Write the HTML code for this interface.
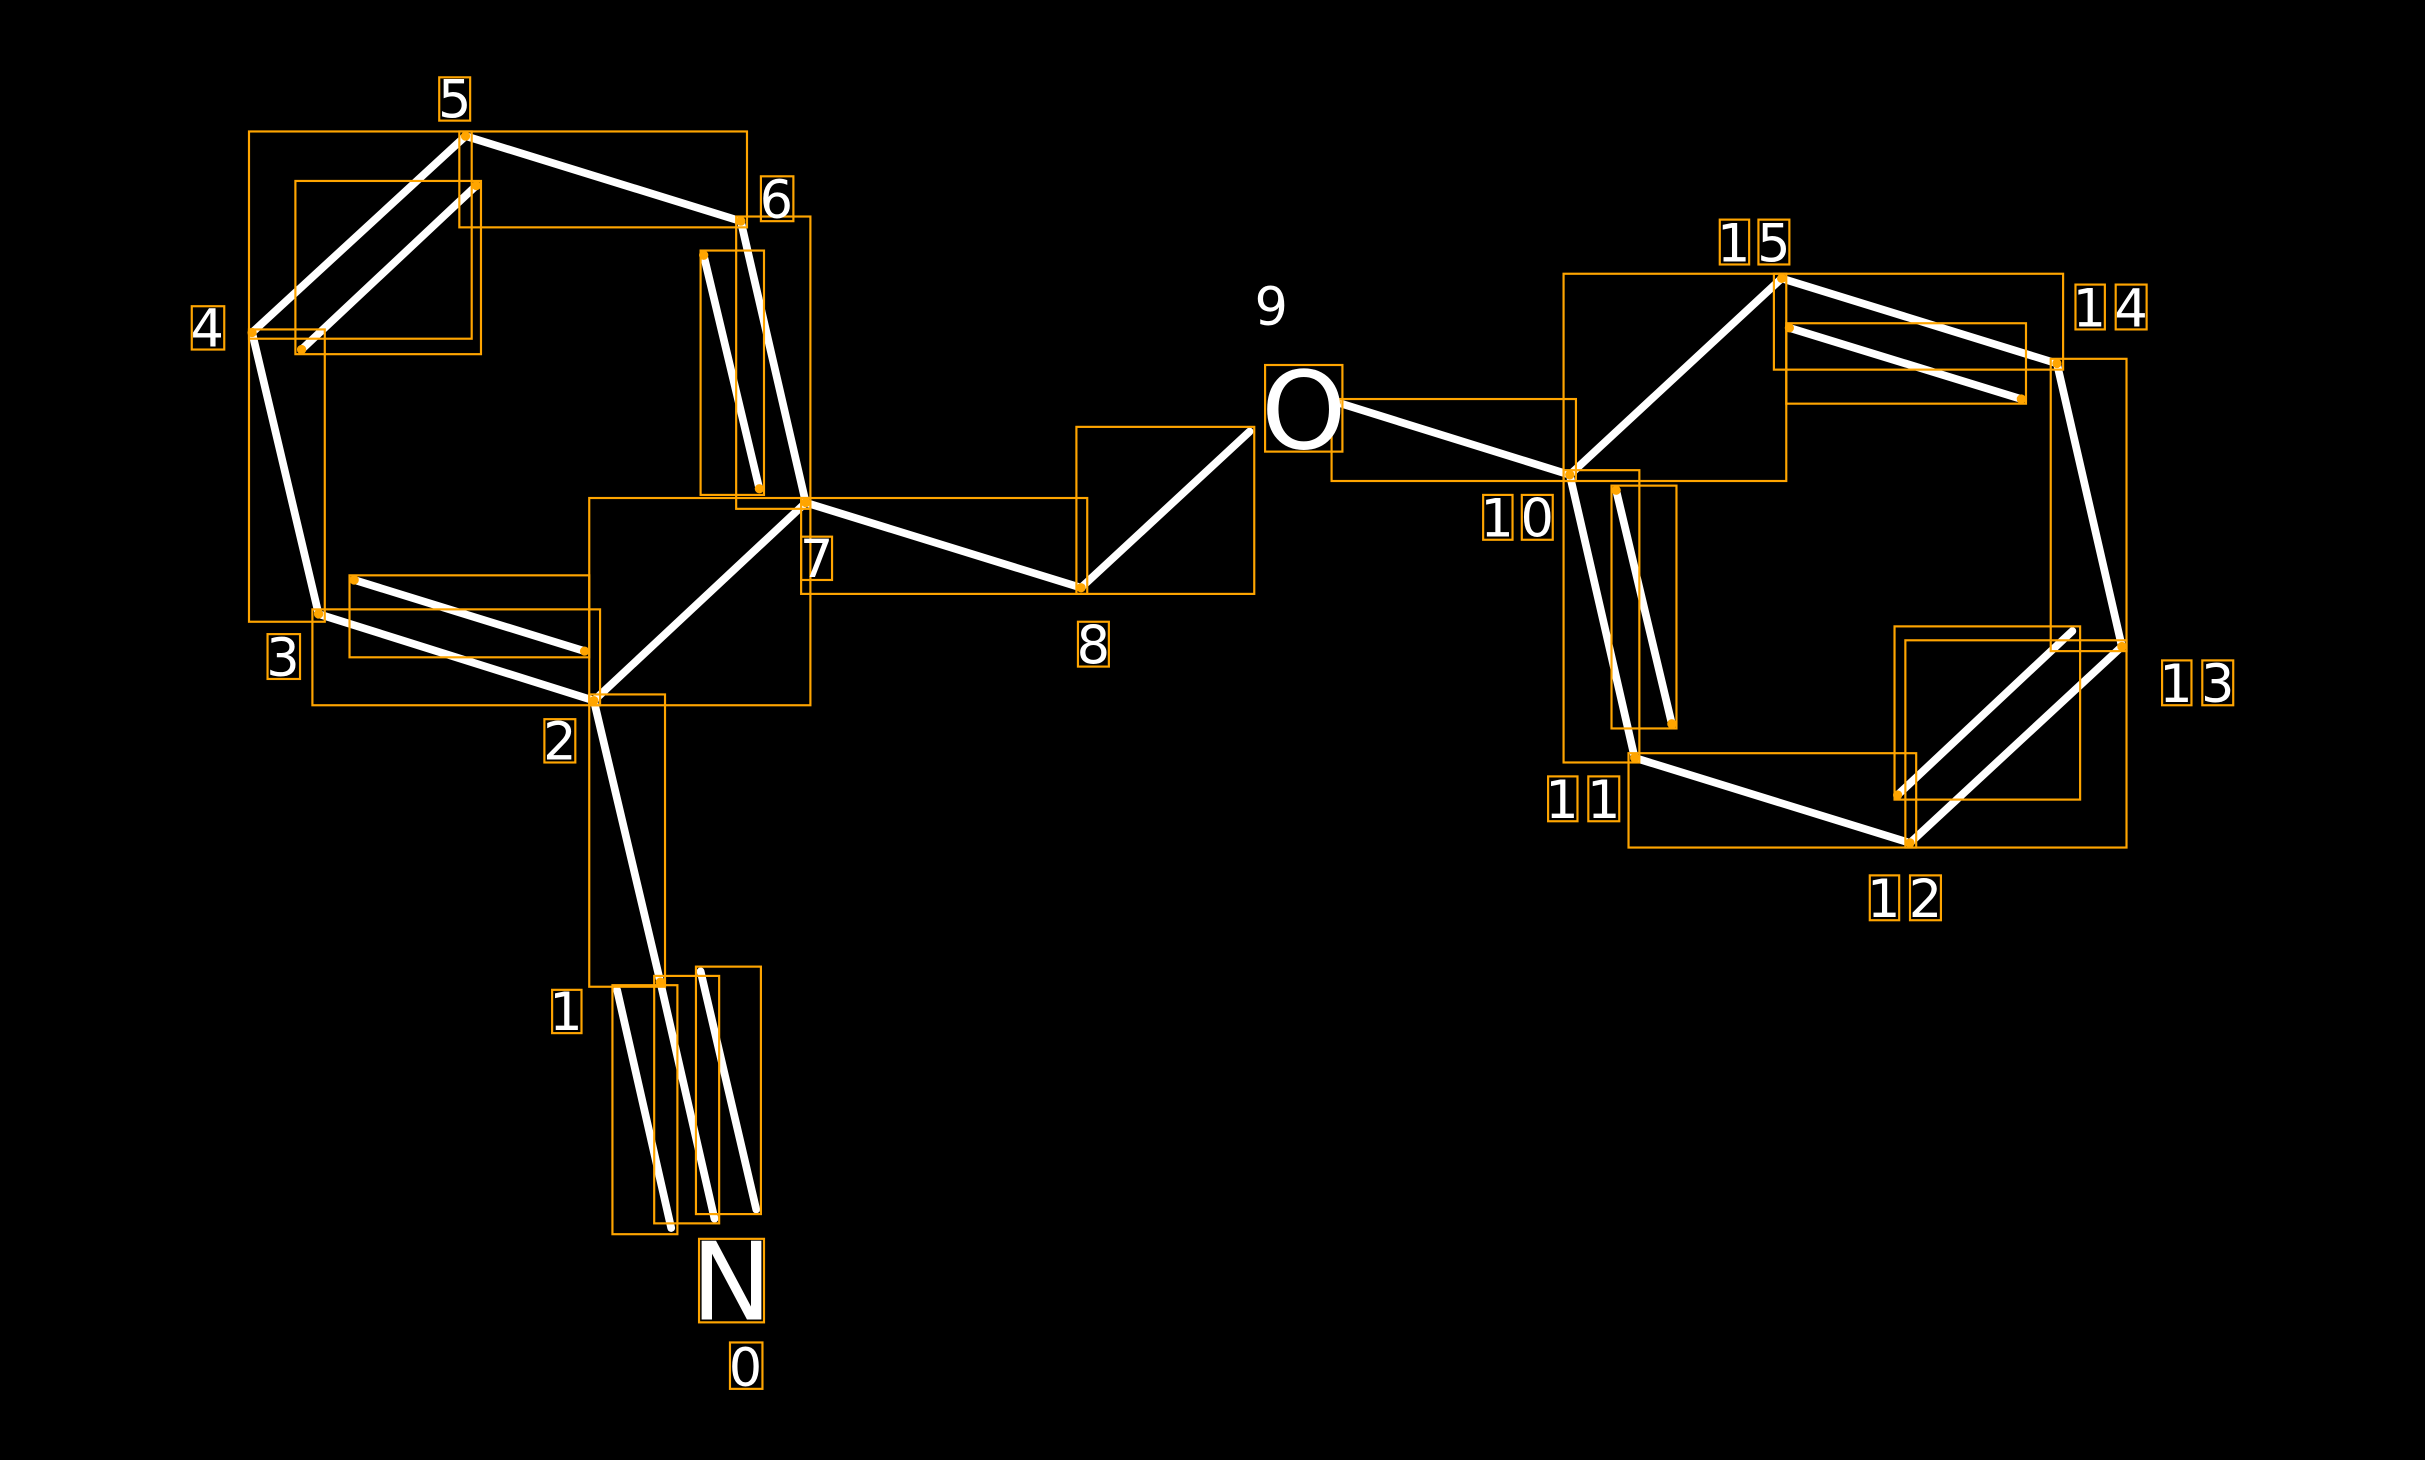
<!DOCTYPE html>
<html><head><meta charset="utf-8"><style>html,body{margin:0;padding:0;background:#000;}svg{display:block}</style></head>
<body>
<svg width="2425" height="1460" viewBox="0 0 1568 944" preserveAspectRatio="none" xmlns="http://www.w3.org/2000/svg">
<rect width="1568" height="944" fill="#000"/>
<g stroke="#fff" stroke-width="5" stroke-linecap="round" fill="none">
<line x1="399" y1="640" x2="434" y2="794"/>
<line x1="427" y1="635" x2="462" y2="788"/>
<line x1="453" y1="628" x2="489" y2="782"/>
<line x1="427" y1="635" x2="384" y2="453"/>
<line x1="384" y1="453" x2="206" y2="397"/>
<line x1="229" y1="375" x2="378" y2="421"/>
<line x1="206" y1="397" x2="163" y2="215"/>
<line x1="163" y1="215" x2="301" y2="88"/>
<line x1="195" y1="226" x2="308" y2="120"/>
<line x1="301" y1="88" x2="479" y2="143"/>
<line x1="479" y1="143" x2="521" y2="325"/>
<line x1="455" y1="165" x2="491" y2="316"/>
<line x1="521" y1="325" x2="384" y2="453"/>
<line x1="521" y1="325" x2="699" y2="380"/>
<line x1="699" y1="380" x2="808" y2="279"/>
<line x1="864" y1="260" x2="1015" y2="307"/>
<line x1="1015" y1="307" x2="1152" y2="180"/>
<line x1="1152" y1="180" x2="1330" y2="235"/>
<line x1="1157" y1="212" x2="1307" y2="258"/>
<line x1="1330" y1="235" x2="1372" y2="418"/>
<line x1="1372" y1="418" x2="1235" y2="545"/>
<line x1="1340" y1="408" x2="1227" y2="514"/>
<line x1="1235" y1="545" x2="1057" y2="490"/>
<line x1="1057" y1="490" x2="1015" y2="307"/>
<line x1="1045" y1="317" x2="1081" y2="468"/>
</g>
<g stroke="#ffa500" stroke-width="1.4" fill="none">
<rect x="161" y="85" width="144" height="134"/>
<rect x="191" y="117" width="120" height="112"/>
<rect x="297" y="85" width="186" height="62"/>
<rect x="161" y="213" width="49" height="189"/>
<rect x="476" y="140" width="48" height="189"/>
<rect x="453" y="162" width="41" height="158"/>
<rect x="202" y="394" width="186" height="62"/>
<rect x="226" y="372" width="155" height="53"/>
<rect x="381" y="322" width="143" height="134"/>
<rect x="381" y="449" width="49" height="189"/>
<rect x="518" y="322" width="185" height="62"/>
<rect x="696" y="276" width="115" height="108"/>
<rect x="861" y="258" width="158" height="53"/>
<rect x="1011" y="177" width="144" height="134"/>
<rect x="1147" y="177" width="187" height="62"/>
<rect x="1155" y="209" width="155" height="52"/>
<rect x="1326" y="232" width="49" height="189"/>
<rect x="1232" y="414" width="143" height="134"/>
<rect x="1225" y="405" width="120" height="112"/>
<rect x="1053" y="487" width="186" height="61"/>
<rect x="1011" y="304" width="49" height="189"/>
<rect x="1042" y="314" width="42" height="157"/>
<rect x="396" y="637" width="42" height="161"/>
<rect x="423" y="631" width="42" height="160"/>
<rect x="450" y="625" width="42" height="160"/>
<rect x="452" y="801" width="42" height="54"/>
<rect x="818" y="236" width="50" height="56"/>
<rect x="284" y="50" width="20" height="28"/>
<rect x="492" y="114" width="21" height="29"/>
<rect x="124" y="198" width="21" height="28"/>
<rect x="173" y="410" width="21" height="29"/>
<rect x="352" y="465" width="20" height="28"/>
<rect x="357" y="640" width="19" height="28"/>
<rect x="518" y="347" width="20" height="28"/>
<rect x="697" y="402" width="20" height="29"/>
<rect x="472" y="868" width="21" height="30"/>
<rect x="959" y="320" width="19" height="29"/><rect x="984" y="320" width="20" height="29"/>
<rect x="1001" y="502" width="19" height="29"/><rect x="1027" y="502" width="20" height="29"/>
<rect x="1209" y="566" width="19" height="29"/><rect x="1235" y="566" width="20" height="29"/>
<rect x="1398" y="427" width="19" height="29"/><rect x="1424" y="427" width="20" height="29"/>
<rect x="1342" y="184" width="19" height="29"/><rect x="1368" y="184" width="20" height="29"/>
<rect x="1112" y="142" width="19" height="29"/><rect x="1137" y="142" width="20" height="29"/>
</g>
<g fill="#ffa500">
<circle cx="301" cy="88" r="3"/><circle cx="308" cy="120" r="3"/><circle cx="163" cy="215" r="3"/><circle cx="195" cy="226" r="3"/>
<circle cx="479" cy="143" r="3"/><circle cx="521" cy="325" r="3"/><circle cx="206" cy="397" r="3"/><circle cx="384" cy="453" r="3"/>
<circle cx="427" cy="635" r="3"/><circle cx="699" cy="380" r="3"/><circle cx="864" cy="260" r="3"/><circle cx="1015" cy="307" r="3"/>
<circle cx="1152" cy="180" r="3"/><circle cx="1330" cy="235" r="3"/><circle cx="1372" cy="418" r="3"/><circle cx="1235" cy="545" r="3"/>
<circle cx="1057" cy="490" r="3"/><circle cx="1157" cy="212" r="3"/><circle cx="1307" cy="258" r="3"/><circle cx="1227" cy="514" r="3"/>
<circle cx="1045" cy="317" r="3"/><circle cx="1081" cy="468" r="3"/><circle cx="455" cy="165" r="3"/><circle cx="491" cy="316" r="3"/>
<circle cx="229" cy="375" r="3"/><circle cx="378" cy="421" r="3"/>
</g>
<g fill="#fff" font-family="'DejaVu Sans', sans-serif" font-size="34" text-anchor="middle">
<text x="294" y="76">5</text>
<text x="502" y="141">6</text>
<text x="134" y="224">4</text>
<text x="183" y="437">3</text>
<text x="362" y="491">2</text>
<text x="366" y="666">1</text>
<text x="528" y="373">7</text>
<text x="707" y="429">8</text>
<text x="822" y="210">9</text>
<text x="482" y="896">0</text>
<text x="968" y="347">1</text><text x="994" y="347">0</text>
<text x="1010" y="529">1</text><text x="1037" y="529">1</text>
<text x="1218" y="593">1</text><text x="1245" y="593">2</text>
<text x="1407" y="454">1</text><text x="1434" y="454">3</text>
<text x="1351" y="211">1</text><text x="1378" y="211">4</text>
<text x="1121" y="169">1</text><text x="1147" y="169">5</text>
<text x="473" y="853" font-size="70">N</text>
<text x="843" y="290" font-size="70">O</text>
</g>
</svg>
</body></html>
